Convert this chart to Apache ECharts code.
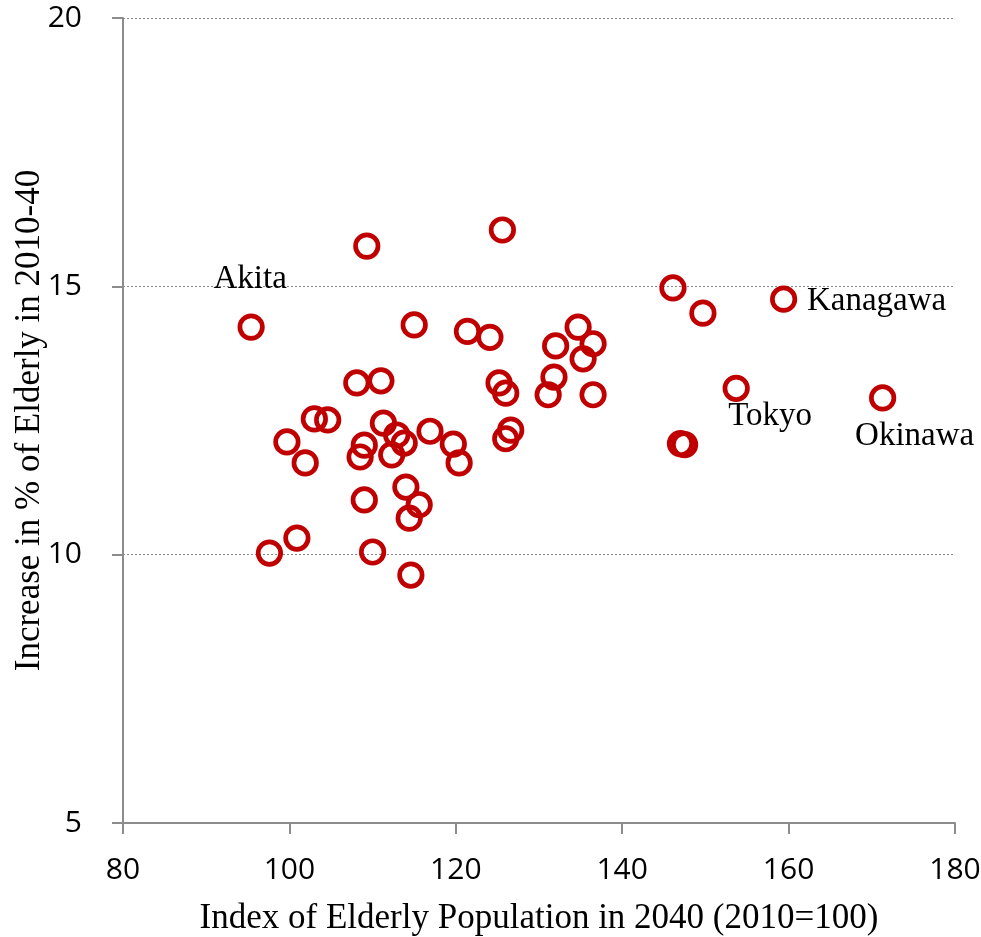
<!DOCTYPE html>
<html>
<head>
<meta charset="utf-8">
<script src="https://cdn.jsdelivr.net/npm/echarts@6/dist/echarts.min.js"></script>
<style>html,body{margin:0;padding:0;background:#fff}#c{width:981px;height:937px}</style>
</head>
<body>
<div id="c"></div>
<script>
// Index of elderly population in 2040 (2010=100)
var indexX = [95.4,109.3,125.6,115.0,121.4,124.1,134.7,132.0,136.5,135.3,
              125.2,126.0,131.8,131.1,136.5,126.6,126.0,108.1,111.0,103.0,
              104.6,99.7,101.9,111.3,112.9,109.0,108.5,112.3,113.8,116.9,
              119.7,120.4,114.0,115.6,114.4,109.0,100.9,97.6,110.0,114.6,
              146.1,149.7,159.4,153.7,171.3,147.0,147.5];
// Increase in % of elderly 2010-40
var increaseY = [14.24,15.75,16.05,14.28,14.16,14.05,14.24,13.89,13.93,13.65,
                 13.20,13.01,13.31,12.98,12.98,12.32,12.16,13.20,13.24,12.53,
                 12.51,12.10,11.71,12.45,12.23,12.04,11.82,11.86,12.08,12.30,
                 12.06,11.71,11.26,10.93,10.68,11.02,10.31,10.03,10.05,9.62,
                 14.97,14.50,14.76,13.10,12.92,12.07,12.05];
var pointNames = ['Akita','','','','','','','','','',
                  '','','','','','','','','','',
                  '','','','','','','','','','',
                  '','','','','','','','','','',
                  '','','Kanagawa','Tokyo','Okinawa','',''];
var xTicks = [80,100,120,140,160,180];
var yTicks = [5,10,15,20];

var labelOffsets = {Akita:[-1,-48], Kanagawa:[93,2], Tokyo:[34,28], Okinawa:[32,38]};
var serif = '"Liberation Serif","Times New Roman",serif';
var data = indexX.map(function(x,i){
  var d = {value:[x, increaseY[i]], name: pointNames[i]};
  if (pointNames[i]) {
    d.label = {show:true, position:'inside', formatter:'{b}', offset:labelOffsets[pointNames[i]],
      align:'center', verticalAlign:'middle', color:'#000', fontFamily:serif, fontSize:33};
  }
  return d;
});

var chart = echarts.init(document.getElementById('c'), null, {renderer:'canvas'});
chart.setOption({
  animation:false,
  grid:{left:123, right:26, top:18, bottom:114, containLabel:false, outerBoundsMode:'none'},
  xAxis:{type:'value', min:xTicks[0], max:xTicks[xTicks.length-1], interval:20,
    name:'Index of Elderly Population in 2040 (2010=100)', nameLocation:'middle', nameGap:78,
    nameMoveOverlap:false,
    nameTextStyle:{fontFamily:serif, fontSize:35, color:'#000'},
    axisLine:{show:true, onZero:false, lineStyle:{color:'#8c8c8c', width:2}},
    axisTick:{show:true, length:11, lineStyle:{color:'#8c8c8c', width:2}},
    axisLabel:{margin:32, fontFamily:'"Open Sans",sans-serif', fontSize:30, color:'#000'},
    splitLine:{show:false}},
  yAxis:{type:'value', min:yTicks[0], max:yTicks[yTicks.length-1], interval:5,
    name:'Increase in % of Elderly in 2010-40', nameLocation:'middle', nameGap:76,
    nameMoveOverlap:false,
    nameTextStyle:{fontFamily:serif, fontSize:35, color:'#000'},
    axisLine:{show:true, onZero:false, lineStyle:{color:'#8c8c8c', width:2}},
    axisTick:{show:true, length:11, lineStyle:{color:'#8c8c8c', width:2}},
    axisLabel:{margin:41, fontFamily:'"Open Sans",sans-serif', fontSize:30, color:'#000'},
    splitLine:{show:true, lineStyle:{color:'#888', width:1, type:[2,2]}}},
  series:[{type:'scatter', data:data, symbol:'circle', symbolSize:22.5,
    itemStyle:{color:'rgba(255,255,255,0)', borderColor:'#C00000', borderWidth:4.7, opacity:1},
    label:{show:false}}]
});
</script>
</body>
</html>
